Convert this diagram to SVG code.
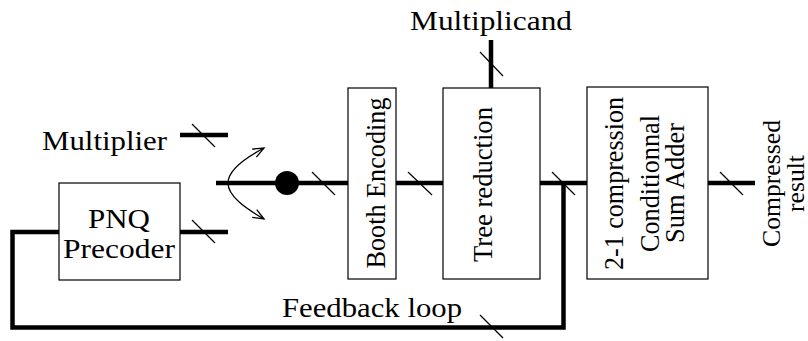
<svg xmlns="http://www.w3.org/2000/svg" width="808" height="341" viewBox="0 0 808 341">
<style>
.box{fill:#fff;stroke:#000;stroke-width:1.2}
.bus{fill:none;stroke:#000;stroke-width:4.5;stroke-linecap:butt;stroke-linejoin:miter}
.tick{stroke:#000;stroke-width:1.2}
.cm{font-family:"Liberation Serif",serif;font-size:28px;fill:#000}
.tm{font-family:"Liberation Serif",serif;fill:#000}
.thin{fill:none;stroke:#000;stroke-width:1.3}
</style>
<defs>
<marker id="open" markerUnits="userSpaceOnUse" markerWidth="14" markerHeight="12" viewBox="-12 -6 14 12" refX="0" refY="0" orient="auto">
<path d="M-11,-4.5 L0,0 L-11,4.5" fill="none" stroke="#000" stroke-width="1.3"/>
</marker>
</defs>
<rect width="808" height="341" fill="#fff"/>

<g id="connectors">
<line class="bus" x1="180" y1="135" x2="228" y2="135"/>
<line class="tick" x1="192" y1="124" x2="215" y2="147"/>
<line class="bus" x1="180" y1="232" x2="228" y2="232"/>
<line class="tick" x1="192" y1="220" x2="215" y2="243"/>
<line class="bus" x1="216" y1="183" x2="348" y2="183"/>
<circle cx="287" cy="183" r="12" fill="#000"/>
<line class="tick" x1="312" y1="172" x2="335" y2="195"/>
<path class="thin" d="M228,183 C228,170 245,158 264,148" marker-end="url(#open)"/>
<path class="thin" d="M228,183 C228,196 245,208 264,219" marker-end="url(#open)"/>
<line class="bus" x1="396" y1="183" x2="443" y2="183"/>
<line class="tick" x1="408" y1="172" x2="432" y2="195"/>
<line class="bus" x1="491" y1="40" x2="491" y2="88"/>
<line class="tick" x1="480" y1="52" x2="503" y2="76"/>
<line class="bus" x1="540" y1="183" x2="587" y2="183"/>
<line class="tick" x1="552" y1="172" x2="575" y2="195"/>
<polyline class="bus" points="563.5,183 563.5,327.5 12.5,327.5 12.5,232 59,232"/>
<line class="tick" x1="480" y1="315" x2="503" y2="338"/>
<line class="bus" x1="708" y1="183" x2="755" y2="183"/>
<line class="tick" x1="720" y1="172" x2="743" y2="195"/>
</g>

<g id="multiplier">
<text class="cm" x="42" y="150" textLength="125" lengthAdjust="spacingAndGlyphs" transform="rotate(0.01 42 150)">Multiplier</text>
</g>
<g id="multiplicand">
<text class="cm" x="410" y="30" textLength="162" lengthAdjust="spacingAndGlyphs" transform="rotate(0.01 410 30)">Multiplicand</text>
</g>
<g id="pnq">
<rect class="box" x="59" y="183" width="121" height="97"/>
<text class="cm" x="119" y="228" text-anchor="middle" textLength="62" lengthAdjust="spacingAndGlyphs" transform="rotate(0.01 119 228)">PNQ</text>
<text class="cm" x="119" y="258" text-anchor="middle" textLength="112" lengthAdjust="spacingAndGlyphs" transform="rotate(0.01 119 258)">Precoder</text>
</g>
<g id="booth">
<rect class="box" x="348" y="88" width="48" height="191"/>
<text class="cm" transform="translate(385,183) rotate(-90)" text-anchor="middle" textLength="171" lengthAdjust="spacingAndGlyphs">Booth Encoding</text>
</g>
<g id="tree">
<rect class="box" x="443" y="88" width="97" height="191"/>
<text class="cm" transform="translate(492,184.5) rotate(-90)" text-anchor="middle" textLength="155" lengthAdjust="spacingAndGlyphs">Tree reduction</text>
</g>
<g id="adder">
<rect class="box" x="587" y="87" width="121" height="192"/>
<text class="tm" font-size="28" transform="translate(623,183.5) rotate(-90)" text-anchor="middle" textLength="173" lengthAdjust="spacingAndGlyphs">2-1 compression</text>
<text class="tm" font-size="27" transform="translate(659,183.5) rotate(-90)" text-anchor="middle" textLength="137" lengthAdjust="spacingAndGlyphs">Conditionnal</text>
<text class="tm" font-size="27" transform="translate(684,183) rotate(-90)" text-anchor="middle" textLength="120" lengthAdjust="spacingAndGlyphs">Sum Adder</text>
</g>
<g id="result">
<text class="tm" font-size="26" transform="translate(780,183.5) rotate(-90)" text-anchor="middle" textLength="127" lengthAdjust="spacingAndGlyphs">Compressed</text>
<text class="tm" font-size="25" transform="translate(804,183.5) rotate(-90)" text-anchor="middle" textLength="57" lengthAdjust="spacingAndGlyphs">result</text>
</g>
<g id="feedback">
<text class="cm" x="282" y="317" textLength="180" lengthAdjust="spacingAndGlyphs" transform="rotate(0.01 282 317)">Feedback loop</text>
</g>
</svg>
